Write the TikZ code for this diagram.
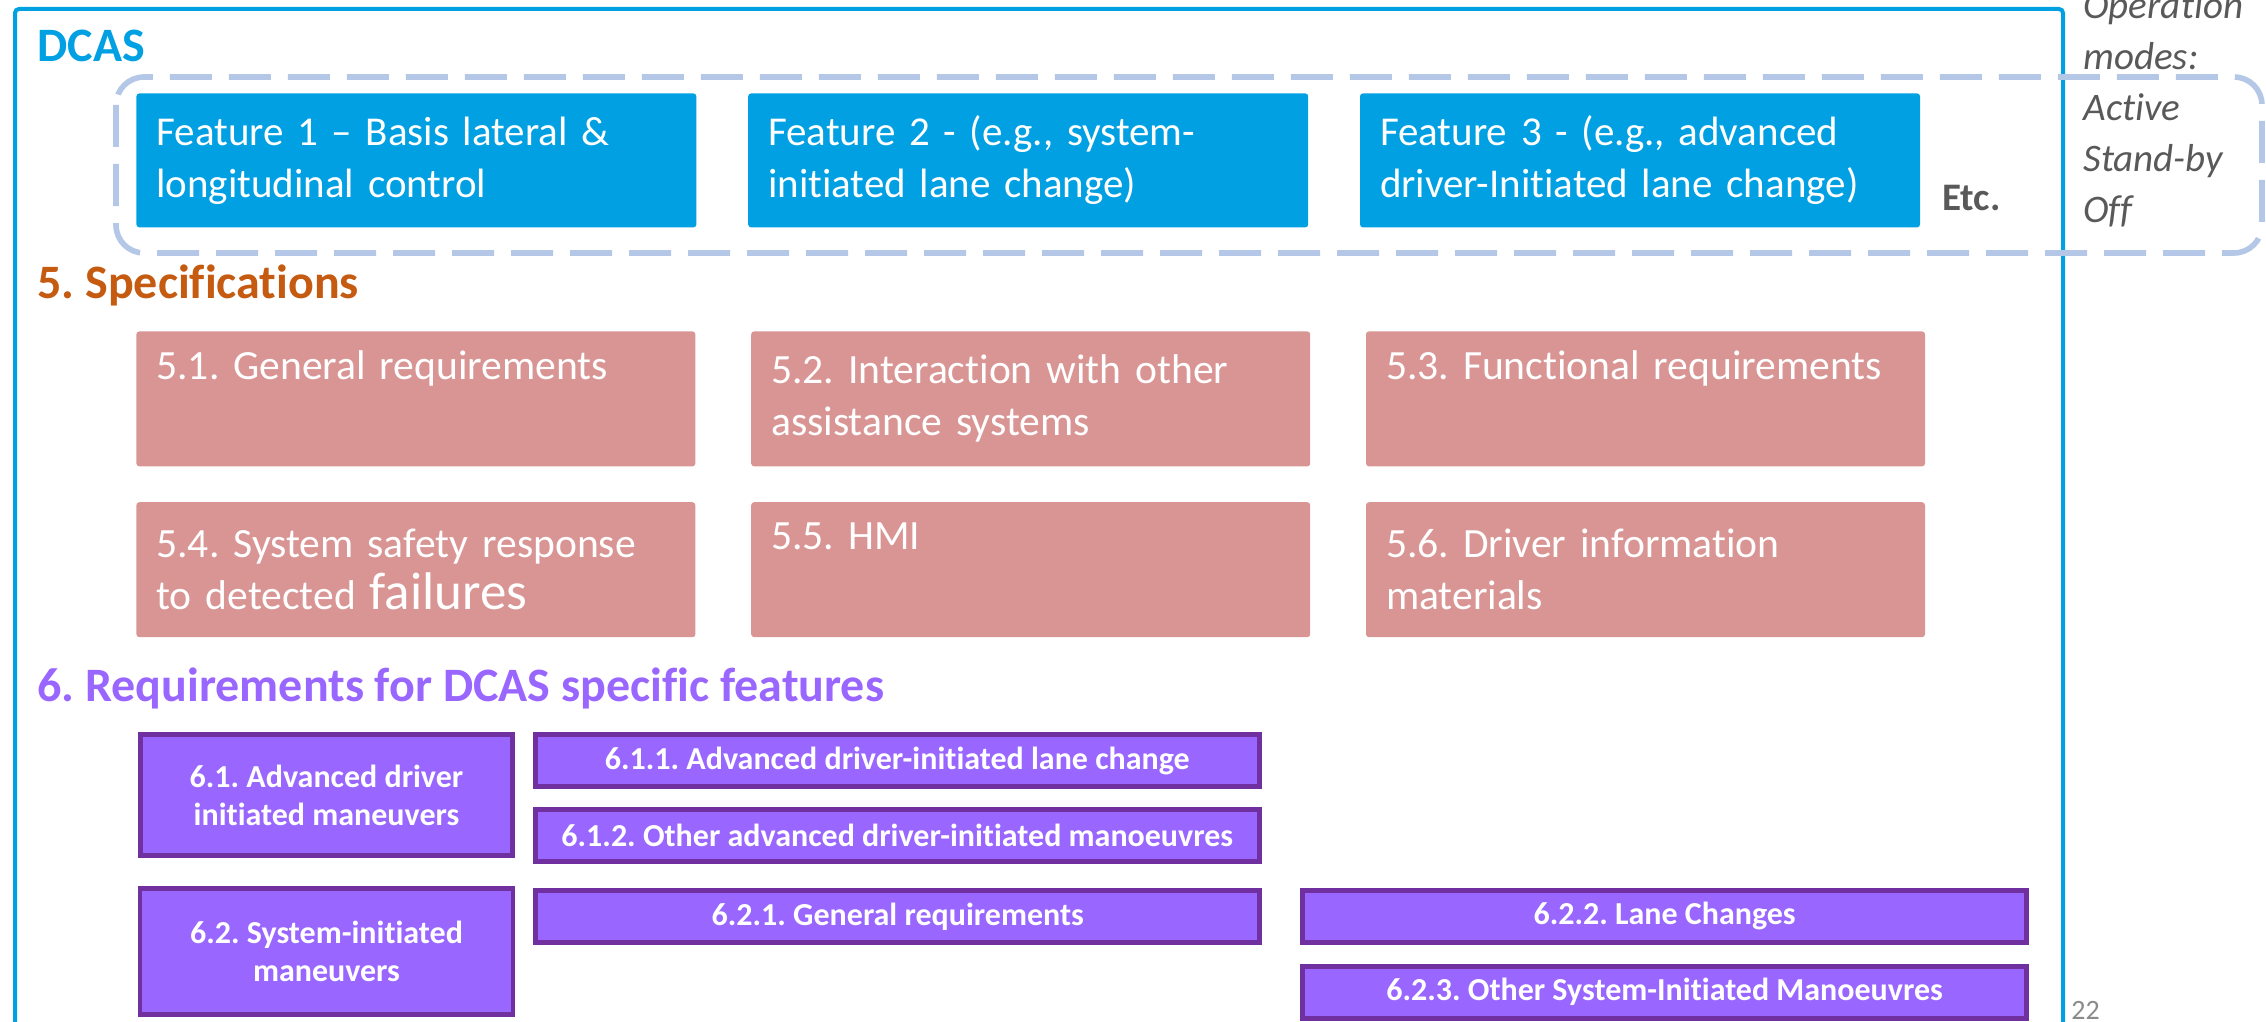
\documentclass[tikz,border=0pt]{standalone}
\usepackage{fontspec}
\setmainfont{Carlito}[Ligatures=NoCommon]
\usetikzlibrary{positioning}
\frenchspacing
\definecolor{dcasblue}{HTML}{00A0E3}
\definecolor{dashblue}{HTML}{B4C7E7}
\definecolor{specred}{HTML}{D99594}
\definecolor{spectitle}{HTML}{C55A11}
\definecolor{reqfill}{HTML}{9966FF}
\definecolor{reqline}{HTML}{7030A0}
\definecolor{greytext}{HTML}{595959}
\tikzset{
    headtitle/.style={anchor=base west,inner sep=0pt,font=\fontsize{24}{28}\selectfont\bfseries},
    featbox/.style={rectangle,fill=dcasblue,rounded corners=1.5pt,text=white,align=left,text width=260pt,inner xsep=10pt,minimum height=67pt,font=\fontsize{20.5}{26}\selectfont},
    specbox/.style={rectangle,fill=specred,rounded corners=1.5pt,text=white,align=left,text width=259.5pt,inner xsep=10pt,minimum height=67.5pt,font=\fontsize{20.8}{26}\selectfont},
    reqbox/.style={rectangle,fill=reqfill,draw=reqline,line width=2.4pt,text=white,align=center,inner sep=0pt,font=\fontsize{16}{19}\selectfont\bfseries},
    reqsub/.style={reqbox,minimum width=362pt,minimum height=26pt},
    dcasframe/.style={draw=dcasblue,line width=2pt,rounded corners=2pt},
    modesline/.style={draw=dashblue,line width=2.8pt,dash pattern=on 21pt off 8.5pt,rounded corners=14pt},
    sidenote/.style={anchor=base west,inner sep=0pt,text=greytext,font=\fontsize{19.5}{25.5}\selectfont}
}
\begin{document}
\begin{tikzpicture}[x=0.5pt,y=-0.5pt,node distance=25.5pt]
        \useasboundingbox (0,0) rectangle (2266,1022);
        \draw[dcasframe] (15,1030) |- (2063,9) -- (2063,1030);
        \node[headtitle,text=dcasblue] (dcas) at (37,62) {DCAS};
        \node[featbox,anchor=north west] (feat1) at (136,93) {Feature 1 – Basis lateral \&\\longitudinal control};
        \node[featbox,right=of feat1] (feat2) {Feature 2 - (e.g., system-\\initiated lane change)};
        \node[featbox,right=of feat2] (feat3) {Feature 3 - (e.g., advanced\\driver-Initiated lane change)};
        \node[sidenote,font=\fontsize{19.5}{25.5}\selectfont\bfseries] (etc) at (1942,210) {Etc.};
        \node[sidenote,align=left,font=\fontsize{19.5}{25.5}\selectfont\itshape] (modes) at (2083,222) {Operation\\modes:\\Active\\Stand-by\\Off};
        \draw[modesline] (116,77) rectangle (2262,253);
        \node[headtitle,text=spectitle] (spec) at (37,298) {5. Specifications};
        \node[specbox,anchor=north west] (spec1) at (136,331) {5.1. General requirements\\\strut};
        \node[specbox,right=27.5pt of spec1] (spec2) {5.2. Interaction with other\\assistance systems};
        \node[specbox,right=27.5pt of spec2] (spec3) {5.3. Functional requirements\\\strut};
        \node[specbox,below=17.5pt of spec1] (spec4) {5.4. System safety response\\to detected {\fontsize{26.5}{26}\selectfont failures}};
        \node[specbox,right=27.5pt of spec4] (spec5) {5.5. HMI\\\strut};
        \node[specbox,right=27.5pt of spec5] (spec6) {5.6. Driver information\\materials};
        \node[headtitle,text=reqfill] (req) at (37,701) {6. Requirements for DCAS specific features};
        \node[reqbox,minimum width=186pt,minimum height=60.5pt] (req61) at (326.5,795) {6.1. Advanced driver\\initiated maneuvers};
        \node[reqsub,anchor=north west] (req611) at ([xshift=9pt]req61.north east) {6.1.1. Advanced driver-initiated lane change};
        \node[reqsub,below=9pt of req611] (req612) {6.1.2. Other advanced driver-initiated manoeuvres};
        \node[reqbox,minimum width=186.5pt,minimum height=63pt,below=14pt of req61] (req62) {6.2. System-initiated\\maneuvers};
        \node[reqsub,anchor=north west] (req621) at ([xshift=9pt,yshift=-1pt]req62.north east) {6.2.1. General requirements};
        \node[reqsub,right=19pt of req621] (req622) {6.2.2. Lane Changes};
        \node[reqsub,below=9.5pt of req622] (req623) {6.2.3. Other System-Initiated Manoeuvres};
        \node[anchor=base west,inner sep=0pt,text=greytext!70,font=\fontsize{14}{16}\selectfont] (page) at (2071,1019) {22};
    \end{tikzpicture}
\end{document}
